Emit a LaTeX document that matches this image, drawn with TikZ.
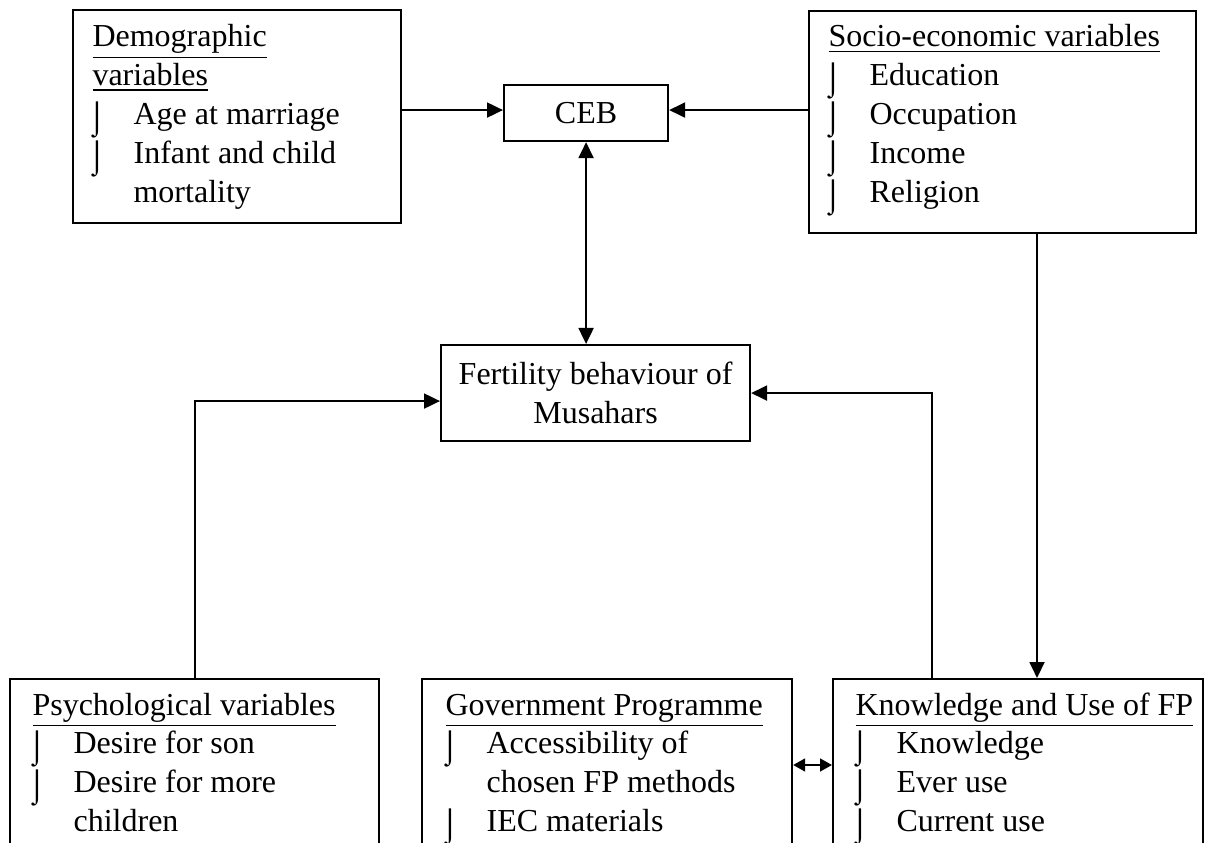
\documentclass[tikz,border=0pt]{standalone}
\usepackage{fontspec}
\usepackage{graphicx}
\setmainfont{Liberation Serif}
\usetikzlibrary{arrows.meta,calc}
\newcommand\bulg{\smash{\raisebox{-1.5pt}{⌡}}}
\newcommand\itm[1]{\hspace*{-1.9pt}\makebox[17.3pt][l]{\bulg}#1}
\newcommand\cnt[1]{\hspace*{15.4pt}#1}
\begin{document}
\begin{tikzpicture}[x=0.375pt,y=-0.375pt,
  box/.style={draw, line width=0.8pt, rectangle, inner sep=0pt, anchor=north west},
  txt/.style={inner sep=0pt, anchor=base west, font=\fontsize{12}{14.6}\selectfont},
  ctxt/.style={inner sep=0pt, align=center, font=\fontsize{12}{14.6}\selectfont},
  arr/.style={line width=0.8pt, -{Triangle[length=6pt,width=5.6pt]}},
  darr/.style={line width=0.8pt, {Triangle[length=6pt,width=5.6pt]}-{Triangle[length=6pt,width=5.6pt]}},
  sdarr/.style={line width=0.8pt, {Triangle[length=4.5pt,width=4.8pt]}-{Triangle[length=4.5pt,width=4.8pt]}}]
\useasboundingbox (0,0) rectangle (1221,843);
\clip (0,0) rectangle (1221,843);
% boxes
\node[box, minimum width=123pt, minimum height=79.875pt] (demo) at (72,9) {};
\node[box, minimum width=61.5pt, minimum height=21pt] (ceb) at (503,84) {};
\node[box, minimum width=145.125pt, minimum height=83.25pt] (socio) at (808,10) {};
\node[box, minimum width=115.875pt, minimum height=36pt] (fert) at (440,344) {};
\node[box, minimum width=138.375pt, minimum height=75pt] (psych) at (9,678) {};
\node[box, minimum width=138.75pt, minimum height=75pt] (gov) at (421,678) {};
\node[box, minimum width=138.75pt, minimum height=75pt] (know) at (832,678) {};
% texts
\node[txt] (demoT) at (92,47) {\parbox[t]{120pt}{\raggedright
  \underline{Demographic}\\
  \underline{variables}\\
  \itm{Age at marriage}\\
  \itm{Infant and child}\\
  \cnt{mortality}}};
\node[ctxt] (cebT) at (ceb.center) {CEB};
\node[txt] (socioT) at (828,47) {\parbox[t]{140pt}{\raggedright
  \underline{Socio-economic variables}\\
  \itm{Education}\\
  \itm{Occupation}\\
  \itm{Income}\\
  \itm{Religion}}};
\node[ctxt] (fertT) at (fert.center) {Fertility behaviour of\\Musahars};
\node[txt] (psychT) at (32,715) {\parbox[t]{135pt}{\raggedright
  \underline{Psychological variables}\\
  \itm{Desire for son}\\
  \itm{Desire for more}\\
  \cnt{children}}};
\node[txt] (govT) at (445,715) {\parbox[t]{135pt}{\raggedright
  \underline{Government Programme}\\
  \itm{Accessibility of}\\
  \cnt{chosen FP methods}\\
  \itm{IEC materials}}};
\node[txt] (knowT) at (855,715) {\parbox[t]{135pt}{\raggedright
  \underline{Knowledge and Use of FP}\\
  \itm{Knowledge}\\
  \itm{Ever use}\\
  \itm{Current use}}};
% connectors
\coordinate (cl) at ($(ceb.west)+(0,-3)$);
\coordinate (cr) at ($(ceb.east)+(0,-3)$);
\draw[arr] (demo.east |- cl) -- (cl);
\draw[arr] (socio.west |- cr) -- (cr);
\draw[darr] (ceb.south) -- (ceb.south |- fert.north);
\coordinate (fl) at ($(fert.west)+(0,8)$);
\draw[arr] (psych.north) |- (fl);
\coordinate (ku) at ($(know.north west)+(100,0)$);
\coordinate (fr) at (fert.east);
\draw[arr] (ku) |- (fr);
\coordinate (sd) at ($(socio.south west)+(229,0)$);
\draw[arr] (sd) -- (sd |- know.north);
\coordinate (ge) at ($(gov.north east)+(0,87)$);
\draw[sdarr] (ge) -- (ge -| know.west);
\end{tikzpicture}
\end{document}
